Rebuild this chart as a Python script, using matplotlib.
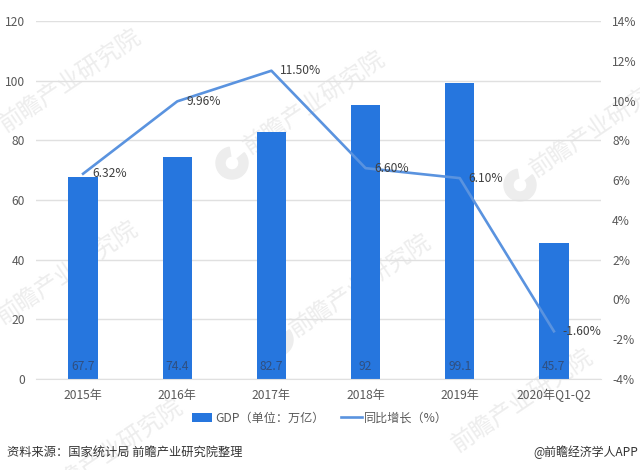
import matplotlib

matplotlib.use("Agg")
import matplotlib.pyplot as plt
from matplotlib.patches import Wedge
import numpy as np

plt.rcParams["font.family"] = ["Noto Sans CJK SC", "DejaVu Sans"]

categories = ["2015年", "2016年", "2017年", "2018年", "2019年", "2020年Q1-Q2"]
gdp = [67.7, 74.4, 82.7, 92, 99.1, 45.7]
gdp_labels = ["67.7", "74.4", "82.7", "92", "99.1", "45.7"]
growth = [6.32, 9.96, 11.50, 6.60, 6.10, -1.60]
growth_labels = ["6.32%", "9.96%", "11.50%", "6.60%", "6.10%", "-1.60%"]
left_ticks = [0, 20, 40, 60, 80, 100, 120]
right_ticks = [-4, -2, 0, 2, 4, 6, 8, 10, 12, 14]
# watermark centres in image pixels
watermarks = [(70, 80), (314, 102), (600, 125), (67, 272), (360, 285), (522, 400), (112, 450)]
logos = [(232, 163), (520, 185), (277, 340)]

BAR = "#2676DE"
LINE = "#5A93DF"
GRID = "#E0E0E0"
TEXT = "#595959"
MARK = "#EDEDED"

fig = plt.figure(figsize=(6.4, 4.7), dpi=100)
ax = fig.add_axes([36 / 640, 1 - 379 / 470, 565 / 640, 358 / 470])
ax.patch.set_visible(False)
x = np.arange(len(categories))

ax.set_axisbelow(True)
ax.yaxis.grid(True, color=GRID, lw=1)
bars = ax.bar(x, gdp, width=0.31, color=BAR, label="GDP（单位：万亿）", zorder=2)
ax.set_xlim(-0.5, 5.5)
ax.set_ylim(0, 120)
ax.set_yticks(left_ticks)
ax.set_xticks(x, categories)
ax.tick_params(length=0, labelsize=8.7, labelcolor=TEXT)
ax.tick_params(axis="x", pad=7)
ax.tick_params(axis="y", pad=8)
for name, spine in ax.spines.items():
    spine.set_visible(name == "bottom")
ax.spines["bottom"].set_color(GRID)

for xi, label in zip(x, gdp_labels):
    ax.annotate(label, (xi, 0), xytext=(0, 12), textcoords="offset pixels",
                ha="center", va="center", fontsize=8.7, color="#2F4F80", zorder=4)

ax2 = ax.twinx()
line, = ax2.plot(x, growth, color=LINE, lw=1.9, label="同比增长（%）", zorder=5)
ax2.set_ylim(-4, 14)
ax2.set_yticks(right_ticks, [f"{t}%" for t in right_ticks])
ax2.tick_params(length=0, labelsize=8.7, labelcolor=TEXT, pad=8)
for spine in ax2.spines.values():
    spine.set_visible(False)

for xi, yi, label in zip(x, growth, growth_labels):
    ax2.annotate(label, (xi, yi), xytext=(9, 0), textcoords="offset pixels",
                 ha="left", va="center", fontsize=8.7, color="#404040", zorder=6)

fig.legend(handles=[bars, line], loc="center", bbox_to_anchor=(0.5, 1 - 418 / 470),
           ncol=2, frameon=False, fontsize=8.7, labelcolor=TEXT, handlelength=1.7,
           handletextpad=0.2, columnspacing=1.4)

for wx, wy in watermarks:
    fig.text(wx / 640, 1 - wy / 470, "前瞻产业研究院", fontsize=17, color=MARK,
             rotation=34, ha="center", va="center", zorder=-1)

for lx, ly in logos:
    logo = Wedge((lx / 100, 4.7 - ly / 100), 0.16, 100, 400, width=0.09,
                 color=MARK, transform=fig.dpi_scale_trans, zorder=-1)
    fig.add_artist(logo)

fig.text(7 / 640, 1 - 452 / 470, "资料来源：国家统计局 前瞻产业研究院整理",
         fontsize=8.8, color="#333333", va="center")
fig.text(638 / 640, 1 - 452 / 470, "@前瞻经济学人APP",
         fontsize=8.6, color="#333333", va="center", ha="right")

fig.savefig("out.png", dpi=100)
